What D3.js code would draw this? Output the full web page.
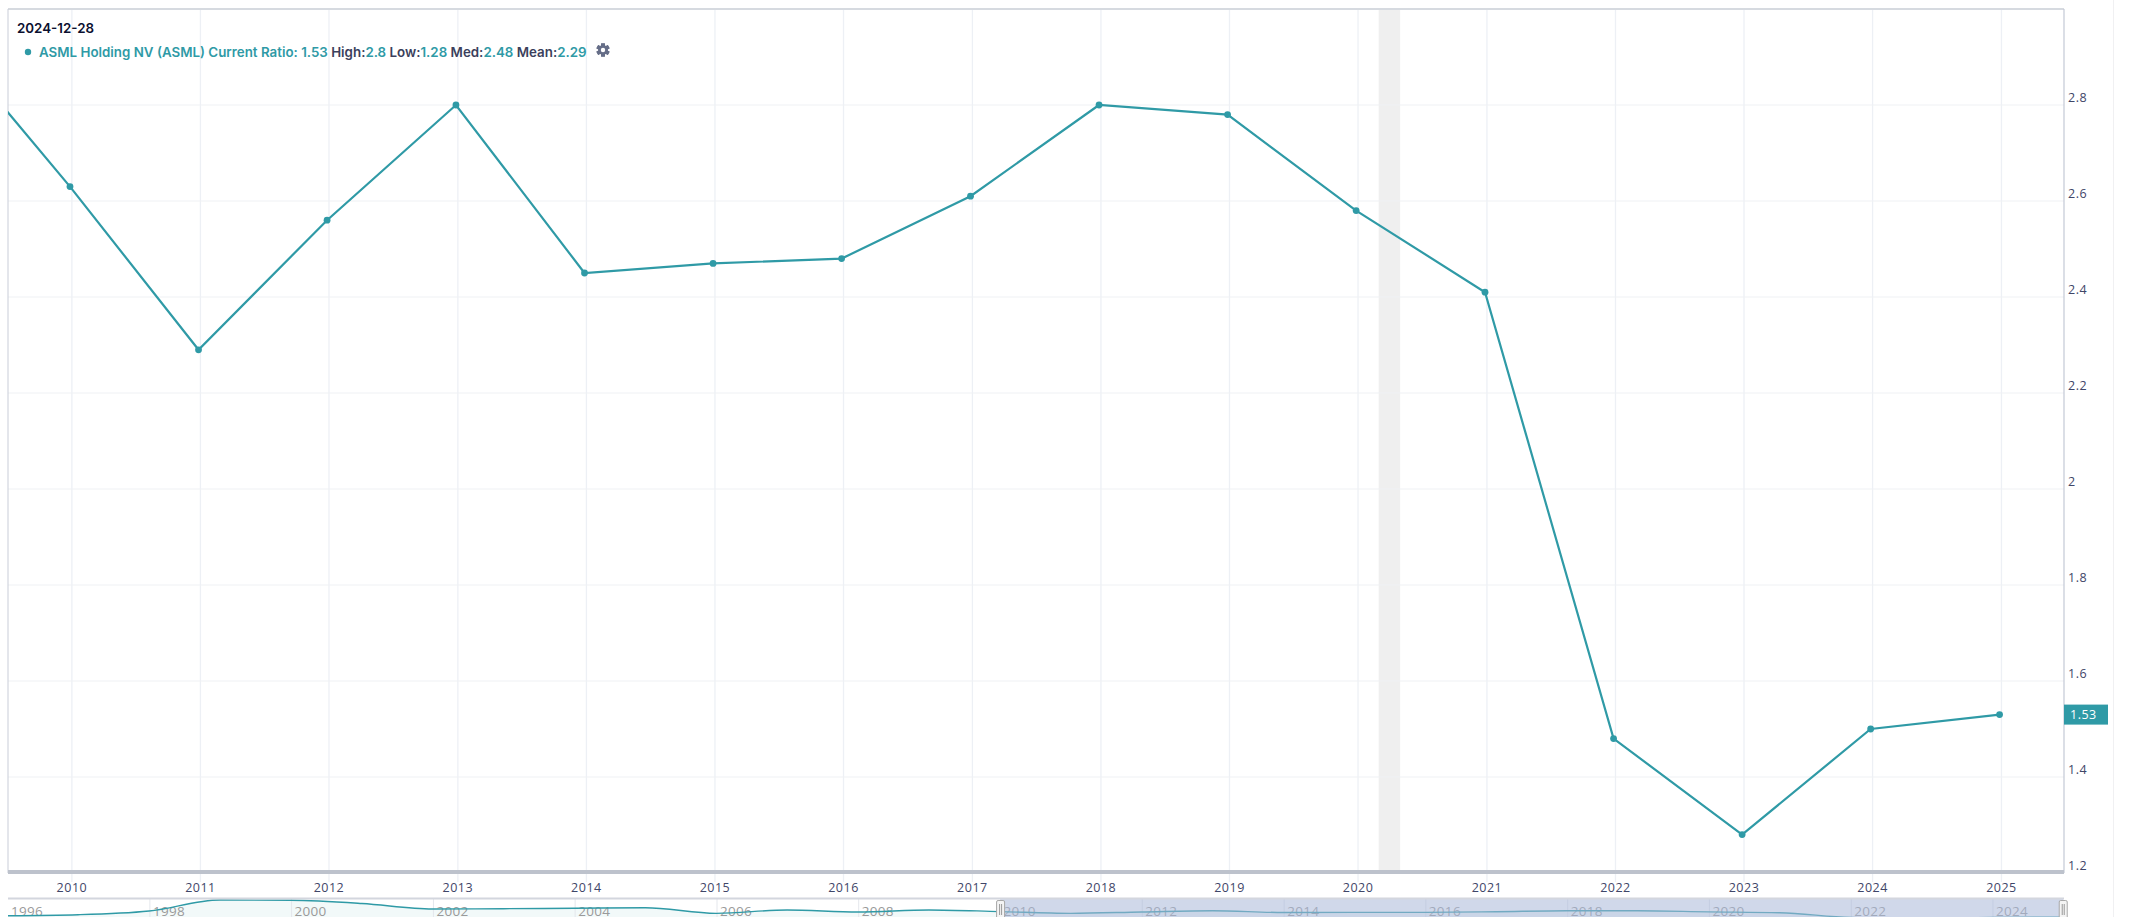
<!DOCTYPE html>
<html><head><meta charset="utf-8">
<script src="https://cdnjs.cloudflare.com/ajax/libs/d3/7.8.5/d3.min.js"></script>
<style>
html,body{margin:0;padding:0;background:#fff;overflow:hidden}
svg{display:block}
text{font-family:"Open Sans",sans-serif}
.leg{font-family:Inter,sans-serif;font-weight:600;font-size:13.35px}
</style></head><body>
<svg id="c" width="2130" height="917"></svg>
<script>
const dates=["2008-12-28","2009-12-28","2010-12-28","2011-12-28","2012-12-28","2013-12-28","2014-12-28","2015-12-28","2016-12-28","2017-12-28","2018-12-28","2019-12-28","2020-12-28","2021-12-28","2022-12-28","2023-12-28","2024-12-28"];
const ratio=[2.95,2.63,2.29,2.56,2.8,2.45,2.47,2.48,2.61,2.8,2.78,2.58,2.41,1.48,1.28,1.5,1.53];
const yTicks=[1.2,1.4,1.6,1.8,2.0,2.2,2.4,2.6,2.8];
const xTickYears=[2010,2011,2012,2013,2014,2015,2016,2017,2018,2019,2020,2021,2022,2023,2024,2025];
const navEarlyDates=["1995-12-28","1996-12-28","1997-12-28","1998-12-28","1999-12-28","2000-12-28","2001-12-28","2002-12-28","2003-12-28","2004-12-28","2005-12-28","2006-12-28","2007-12-28"];
const navEarlyValues=[1.83,2.02,2.74,4.88,4.82,4.2,3.13,3.19,3.27,3.38,2.29,2.94,2.55];
const navTickYears=[1996,1998,2000,2002,2004,2006,2008,2010,2012,2014,2016,2018,2020,2022,2024];
const recession=["2020-03-01","2020-05-01"];
const selection=["2010-01-01","2024-12-28"];
const dateLabel="2024-12-28";
const legendParts=[["ASML Holding NV (ASML) Current Ratio: 1.53","t"],[" High:","k"],["2.8","t"],[" Low:","k"],["1.28","t"],[" Med:","k"],["2.48","t"],[" Mean:","k"],["2.29","t"]];
const lastLabel="1.53";

const TEAL="#2f9aa6";
const U=d=>new Date(d+"T00:00:00Z");
const L=8,R=2064,T=9,B=873;
const svg=d3.select("#c");
const x=d3.scaleUtc().domain([U("2009-07-05"),U("2025-06-29")]).range([L,R]);
const y=d3.scaleLinear().domain([1.2,3.0]).range([B,T]);
const nx=d3.scaleUtc().domain([U("1996-01-01"),U("2025-01-01")]).range([L,R]);
const ny=d3.scaleLinear().domain([1.0,2.8]).range([910.7+1.8*5.15,910.7]);

const defs=svg.append("defs");
defs.append("clipPath").attr("id","pc").append("rect").attr("x",L).attr("y",T).attr("width",R-L).attr("height",B-T);
defs.append("clipPath").attr("id","nc").append("rect").attr("x",L).attr("y",898).attr("width",R-L).attr("height",19);

// far right rule
svg.append("line").attr("x1",2113.5).attr("x2",2113.5).attr("y1",0).attr("y2",917).attr("stroke","#f0f0f2").attr("stroke-width",1);

// recession band
svg.append("rect").attr("x",x(U(recession[0]))).attr("y",T).attr("width",x(U(recession[1]))-x(U(recession[0]))).attr("height",B-T).attr("fill","#efefef");

// x axis + vertical grid
const xAxis=d3.axisBottom(x).tickValues(xTickYears.map(v=>U(v+"-01-01"))).tickFormat(d3.utcFormat("%Y")).tickSizeInner(B-T+9).tickSizeOuter(0).tickPadding(1);
const gx=svg.append("g").attr("transform",`translate(0,${T})`).call(xAxis);
gx.select(".domain").remove();
gx.selectAll(".tick line").attr("stroke","#edf0f5").attr("stroke-width",1.3);
gx.selectAll(".tick text").attr("fill","#3f4668").attr("font-size",12.5).attr("letter-spacing",".5px").style("font-family",'"Open Sans",sans-serif');

// y axis + horizontal grid
const yAxis=d3.axisRight(y).tickValues(yTicks).tickFormat(d=>String(+d.toFixed(1))).tickSize(0).tickPadding(4);
const gy=svg.append("g").attr("transform",`translate(${R},0)`).call(yAxis);
gy.select(".domain").remove();
gy.selectAll(".tick text").attr("fill","#3f4668").attr("font-size",12.5).attr("letter-spacing",".5px").attr("dy","-0.25em").style("font-family",'"Open Sans",sans-serif');
svg.append("g").selectAll("line").data(yTicks.filter(v=>v>1.2)).join("line")
  .attr("x1",L).attr("x2",R).attr("y1",d=>y(d)).attr("y2",d=>y(d)).attr("stroke","#eff1f4").attr("stroke-width",1);

// frame
svg.append("line").attr("x1",L).attr("x2",R).attr("y1",9).attr("y2",9).attr("stroke","#d6dae0").attr("stroke-width",2);
svg.append("line").attr("x1",L).attr("x2",L).attr("y1",9).attr("y2",B).attr("stroke","#c9cdd8").attr("stroke-width",1);
svg.append("line").attr("x1",R).attr("x2",R).attr("y1",9).attr("y2",B).attr("stroke","#c3c9d6").attr("stroke-width",1.2);
svg.append("rect").attr("x",L).attr("y",870).attr("width",R-L).attr("height",4).attr("fill","#bdc2cc");

// main series
const pts=dates.map((d,i)=>({d:U(d),v:ratio[i]}));
const pg=svg.append("g").attr("clip-path","url(#pc)");
pg.append("path").datum(pts).attr("fill","none").attr("stroke",TEAL).attr("stroke-width",2.2)
  .attr("d",d3.line().x(d=>x(d.d)).y(d=>y(d.v)));
pg.selectAll("circle").data(pts).join("circle").attr("cx",d=>x(d.d)).attr("cy",d=>y(d.v)).attr("r",3.4).attr("fill",TEAL);

// last value tag
const ly=y(ratio[ratio.length-1]);
svg.append("rect").attr("x",R).attr("y",ly-10).attr("width",44).attr("height",20).attr("fill",TEAL);
svg.append("text").attr("x",R+6).attr("y",ly+4.5).attr("fill","#fff").attr("font-size",12.5).attr("letter-spacing",".5px").text(lastLabel);

// header
svg.append("text").attr("class","leg").attr("x",17).attr("y",33).attr("fill","#0b1030").text(dateLabel);
svg.append("circle").attr("cx",28).attr("cy",52).attr("r",3.2).attr("fill",TEAL);
const lt=svg.append("text").attr("class","leg").attr("x",39).attr("y",56.5).attr("xml:space","preserve").style("white-space","pre");
lt.selectAll("tspan").data(legendParts).join("tspan").attr("fill",d=>d[1]==="t"?TEAL:"#3b3f5c").text(d=>d[0]);

// gear icon
const gear=svg.append("g").attr("transform","translate(603,50)");
const teeth=d3.range(6).map(i=>i*60);
gear.selectAll("rect").data(teeth).join("rect").attr("x",-1.9).attr("y",-6.6).attr("width",3.8).attr("height",13.2).attr("fill","#666e88").attr("transform",d=>`rotate(${d})`);
gear.append("circle").attr("r",4.9).attr("fill","#666e88");
gear.append("circle").attr("r",2.2).attr("fill","#fff");

// navigator
const navPts=navEarlyDates.map((d,i)=>({d:U(d),v:navEarlyValues[i]})).concat(pts);
const ng=svg.append("g").attr("clip-path","url(#nc)");
ng.append("path").datum(navPts).attr("fill","#f2f9f9")
  .attr("d",d3.area().x(d=>nx(d.d)).y0(930).y1(d=>ny(d.v)).curve(d3.curveMonotoneX));
ng.selectAll("line.g").data(navTickYears.slice(1)).join("line").attr("class","g")
  .attr("x1",d=>nx(U(d+"-01-01"))).attr("x2",d=>nx(U(d+"-01-01"))).attr("y1",898).attr("y2",917).attr("stroke","#e4e7ec");
ng.selectAll("text").data(navTickYears).join("text")
  .attr("x",d=>nx(U(d+"-01-01"))+3).attr("y",916.4).attr("fill","#9a9a9a").attr("font-size",13.5).attr("letter-spacing",".3px").text(d=>d);
ng.append("path").datum(navPts).attr("fill","none").attr("stroke",TEAL).attr("stroke-width",1.4)
  .attr("d",d3.line().x(d=>nx(d.d)).y(d=>ny(d.v)).curve(d3.curveMonotoneX));
const s0=nx(U(selection[0])),s1=nx(U(selection[1]));
svg.append("rect").attr("x",s0).attr("y",899).attr("width",s1-s0).attr("height",18).attr("fill","#a9b8d9").attr("fill-opacity",.55);
svg.append("line").attr("x1",L).attr("x2",R).attr("y1",898.5).attr("y2",898.5).attr("stroke","#d3d6de").attr("stroke-width",2);
[s0,s1].forEach(h=>{
  const g=svg.append("g").attr("transform",`translate(${h},0)`);
  g.append("rect").attr("x",-4).attr("y",900.5).attr("width",8).attr("height",18).attr("rx",1.5).attr("fill","#f4f4f4").attr("stroke","#a8a8a8");
  [-1,1].forEach(o=>g.append("line").attr("x1",o).attr("x2",o).attr("y1",904).attr("y2",915).attr("stroke","#999"));
});
</script>
</body></html>
